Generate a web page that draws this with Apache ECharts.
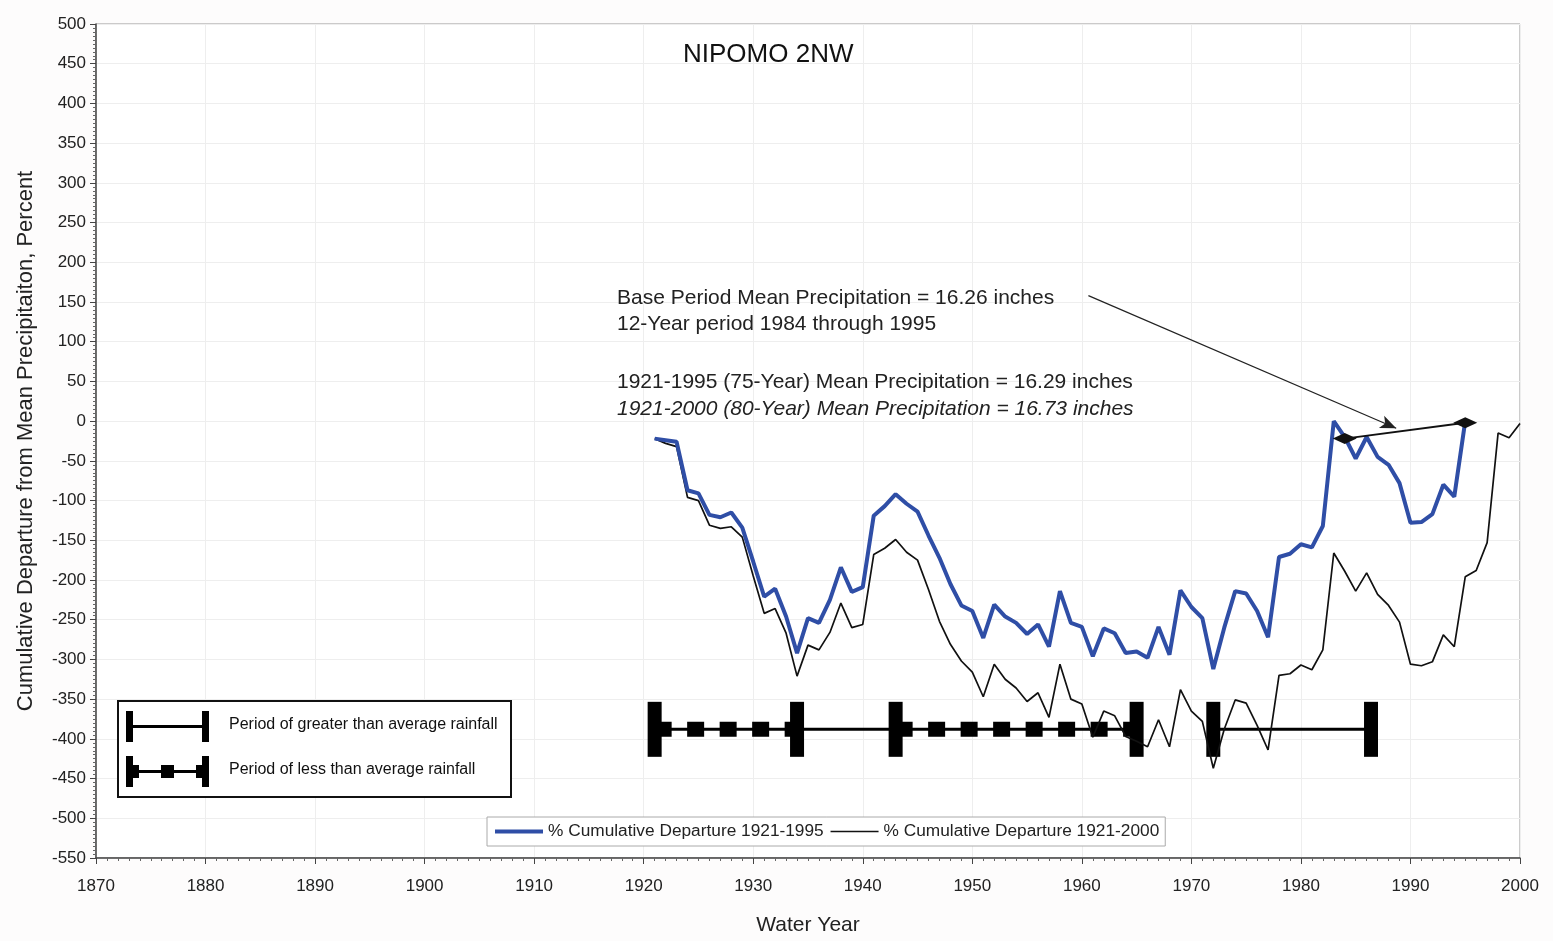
<!DOCTYPE html>
<html>
<head>
<meta charset="utf-8">
<script src="https://cdn.jsdelivr.net/npm/echarts@6/dist/echarts.min.js"></script>
<style>
  html, body { margin: 0; padding: 0; background: #fdfcfc; }
  #main { width: 1553px; height: 941px; }
</style>
</head>
<body>
<div id="main"></div>
<script>
// water years and cumulative departures (percent)
var years95 = [];
for (var y = 1921; y <= 1995; y++) years95.push(y);
var years00 = [];
for (var y2 = 1921; y2 <= 2000; y2++) years00.push(y2);

var dep1921_1995 = [
    -22, -24, -26, -87, -91, -118, -121, -115, -134, -177,
    -221, -211, -246, -292, -248, -254, -225, -184, -215, -209,
    -119, -107, -92, -104, -114, -144, -172, -205, -232, -239,
    -273, -231, -246, -254, -268, -256, -284, -214, -254, -259,
    -296, -261, -267, -292, -290, -298, -259, -294, -213, -234,
    -248, -312, -260, -214, -217, -239, -272, -171, -167, -155,
    -159, -132, 0, -20, -47, -20, -45, -55, -78, -128,
    -127, -117, -80, -95, 0
];
var dep1921_2000 = [
    -22, -28, -32, -96, -100, -131, -135, -133, -146, -195,
    -242, -236, -267, -321, -282, -288, -266, -229, -260, -256,
    -168, -160, -149, -165, -175, -212, -252, -281, -302, -316,
    -347, -306, -325, -336, -353, -342, -373, -306, -350, -356,
    -398, -365, -371, -397, -403, -410, -376, -410, -338, -365,
    -378, -437, -388, -351, -355, -383, -414, -320, -318, -307,
    -313, -288, -166, -189, -214, -191, -218, -232, -253, -306,
    -308, -303, -269, -284, -196, -188, -153, -15, -21, -3
];

// wet / dry periods drawn as bars along one level
var periodBounds = [1921, 1934, 1943, 1965, 1972, 1986.4];
var periodSpans = [
    [1921, 1934, 'less'],
    [1934, 1943, 'greater'],
    [1943, 1965, 'less'],
    [1972, 1986.4, 'greater']
];
var periodLevel = -388;

// base period annotation
var baseLine = [[1984, -22], [1995, -2]];
var arrowFrom = [1960.6, 158];
var arrowTo = [1988.7, -9];

var name95 = '% Cumulative Departure 1921-1995';
var name00 = '% Cumulative Departure 1921-2000';

function pairs(xs, ys) {
    return xs.map(function (x, i) { return [x, ys[i]]; });
}

var font = 'Liberation Sans, Arial, sans-serif';
var myChart = echarts.init(document.getElementById('main'));

var series = [];

periodSpans.forEach(function (p) {
    var seg = [[p[0], periodLevel], [p[1], periodLevel]];
    series.push({
        type: 'line', data: seg, symbol: 'none', silent: true, z: 3,
        lineStyle: { color: '#000', width: 3 }
    });
    if (p[2] == 'less') {
        series.push({
            type: 'line', data: seg, symbol: 'none', silent: true, z: 3,
            lineStyle: { color: '#000', width: 15, type: [17, 15.5], cap: 'butt' }
        });
    }
});

series.push({
    type: 'scatter', silent: true, z: 3,
    data: periodBounds.map(function (b) { return [b, periodLevel]; }),
    symbol: 'rect', symbolSize: [14, 55],
    itemStyle: { color: '#000', opacity: 1 }
});

series.push({
    name: name00, type: 'line', data: pairs(years00, dep1921_2000),
    symbol: 'none', z: 4,
    lineStyle: { color: '#111', width: 1.7 },
    itemStyle: { color: '#111' }
});
series.push({
    name: name95, type: 'line', data: pairs(years95, dep1921_1995),
    symbol: 'none', z: 5,
    lineStyle: { color: '#2f4ea6', width: 4 },
    itemStyle: { color: '#2f4ea6' }
});

series.push({
    type: 'line', data: baseLine, silent: true, z: 6,
    symbol: 'diamond', symbolSize: [24, 11],
    lineStyle: { color: '#111', width: 2 },
    itemStyle: { color: '#111' },
    markLine: {
        silent: true,
        symbol: ['none', 'arrow'],
        symbolSize: [10, 16],
        label: { show: false },
        lineStyle: { color: '#222', width: 1.2, type: 'solid' },
        data: [[{ coord: arrowFrom }, { coord: arrowTo }]]
    }
});

var option = {
    backgroundColor: '#fdfcfc',
    animation: false,
    textStyle: { fontFamily: font },
    grid: {
        left: 96, width: 1424, top: 24, height: 838,
        show: true, borderColor: '#999', borderWidth: 1, backgroundColor: '#fff'
    },
    legend: {
        data: [
            { name: name95, lineStyle: { width: 4 } },
            { name: name00, lineStyle: { width: 1.7 } }
        ],
        left: 487, top: 817,
        orient: 'horizontal',
        backgroundColor: '#fff',
        borderColor: '#aaa', borderWidth: 1,
        padding: [6, 6],
        itemGap: 6, itemWidth: 48, itemHeight: 10,
        itemStyle: { opacity: 0 },
        textStyle: { fontSize: 17.3, color: '#222', fontFamily: font }
    },
    xAxis: {
        type: 'value', min: 1870, max: 2000, interval: 10,
        name: 'Water Year', nameLocation: 'middle', nameGap: 57,
        nameTextStyle: { fontSize: 21, color: '#222', fontFamily: font },
        axisLine: { onZero: false, lineStyle: { color: '#444', width: 1.5 } },
        axisTick: { length: 6, lineStyle: { color: '#444' } },
        minorTick: { show: true, splitNumber: 10, length: 3, lineStyle: { color: '#666' } },
        axisLabel: { fontSize: 17, color: '#222', margin: 20, fontFamily: font,
            formatter: function (v) { return String(v); } },
        splitLine: { show: true, lineStyle: { color: '#eee' } }
    },
    yAxis: {
        type: 'value', min: -550, max: 500, interval: 50,
        name: 'Cumulative Departure from Mean Precipitaiton, Percent',
        nameLocation: 'middle', nameGap: 59,
        nameTextStyle: { fontSize: 22, color: '#222', fontFamily: font },
        axisLine: { show: true, onZero: false, lineStyle: { color: '#444', width: 1.5 } },
        axisTick: { show: true, length: 6, lineStyle: { color: '#444' } },
        minorTick: { show: true, splitNumber: 10, length: 3, lineStyle: { color: '#666' } },
        axisLabel: { fontSize: 17, color: '#222', margin: 10, fontFamily: font },
        splitLine: { show: true, lineStyle: { color: '#eee' } }
    },
    graphic: [
        { type: 'text', left: 683, top: 42, z: 100, style: { text: 'NIPOMO 2NW', font: '26px ' + font, fill: '#111' } },
        { type: 'text', left: 617, top: 288, z: 100, style: { text: 'Base Period Mean Precipitation = 16.26 inches', font: '21px ' + font, fill: '#222' } },
        { type: 'text', left: 617, top: 314, z: 100, style: { text: '12-Year period 1984 through 1995', font: '21px ' + font, fill: '#222' } },
        { type: 'text', left: 617, top: 372, z: 100, style: { text: '1921-1995 (75-Year) Mean Precipitation = 16.29 inches', font: '21px ' + font, fill: '#222' } },
        { type: 'text', left: 617, top: 399, z: 100, style: { text: '1921-2000 (80-Year) Mean Precipitation = 16.73 inches', font: 'italic 21px ' + font, fill: '#222' } },
        {
            type: 'group', left: 117, top: 700, z: 100,
            children: [
                { type: 'rect', z: 100, shape: { x: 0, y: 0, width: 393, height: 96 }, style: { fill: '#fff', stroke: '#111', lineWidth: 2 } },
                { type: 'rect', z: 101, shape: { x: 8, y: 10, width: 7, height: 31 }, style: { fill: '#000' } },
                { type: 'rect', z: 101, shape: { x: 84, y: 10, width: 7, height: 31 }, style: { fill: '#000' } },
                { type: 'line', z: 101, shape: { x1: 15, y1: 25.5, x2: 84, y2: 25.5 }, style: { stroke: '#000', lineWidth: 3 } },
                { type: 'text', z: 101, left: 111, top: 16, style: { text: 'Period of greater than average rainfall', font: '16px ' + font, fill: '#111' } },
                { type: 'rect', z: 101, shape: { x: 8, y: 55, width: 7, height: 31 }, style: { fill: '#000' } },
                { type: 'rect', z: 101, shape: { x: 84, y: 55, width: 7, height: 31 }, style: { fill: '#000' } },
                { type: 'line', z: 101, shape: { x1: 15, y1: 70.5, x2: 84, y2: 70.5 }, style: { stroke: '#000', lineWidth: 3 } },
                { type: 'rect', z: 101, shape: { x: 15, y: 64, width: 6, height: 13 }, style: { fill: '#000' } },
                { type: 'rect', z: 101, shape: { x: 43, y: 64, width: 13, height: 13 }, style: { fill: '#000' } },
                { type: 'rect', z: 101, shape: { x: 78, y: 64, width: 6, height: 13 }, style: { fill: '#000' } },
                { type: 'text', z: 101, left: 111, top: 61, style: { text: 'Period of less than average rainfall', font: '16px ' + font, fill: '#111' } }
            ]
        }
    ],
    series: series
};

option && myChart.setOption(option);
</script>
</body>
</html>
